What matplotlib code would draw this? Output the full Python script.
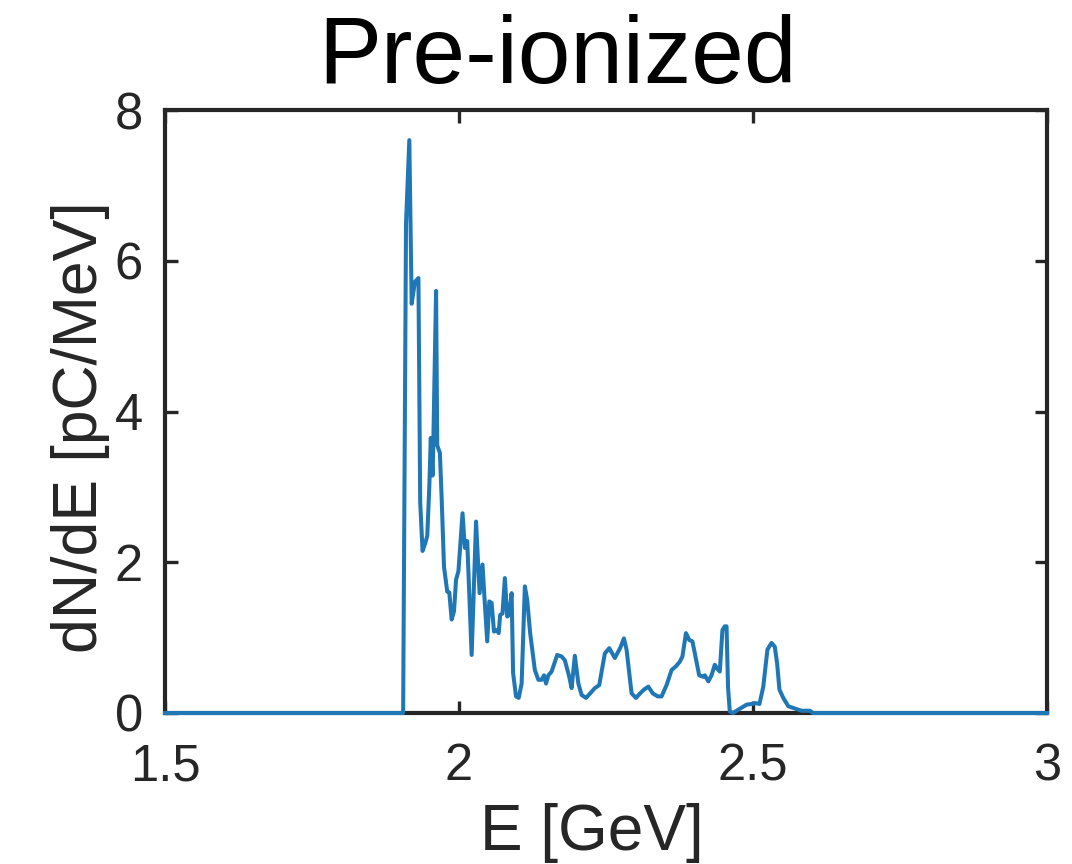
import matplotlib
matplotlib.use("Agg")
import matplotlib.pyplot as plt

# Electron energy spectrum, pre-ionized case
energy_gev = [1.5, 1.905, 1.9099, 1.9155, 1.9195, 1.925, 1.931, 1.934, 1.938, 1.9425,
              1.946, 1.9495, 1.952, 1.955, 1.956, 1.961, 1.963, 1.9675, 1.9705, 1.9745,
              1.980, 1.9835, 1.9875, 1.9915, 1.995, 1.999, 2.006, 2.010, 2.014, 2.0215,
              2.029, 2.035, 2.040, 2.043, 2.048, 2.0515, 2.0555, 2.0595, 2.064, 2.0675,
              2.070, 2.074, 2.078, 2.082, 2.0855, 2.0895, 2.092, 2.097, 2.1015, 2.1065,
              2.112, 2.116, 2.121, 2.129, 2.135, 2.1405, 2.1445, 2.148, 2.152, 2.1575,
              2.167, 2.1745, 2.180, 2.1875, 2.1915, 2.197, 2.203, 2.2085, 2.216, 2.223,
              2.231, 2.2385, 2.248, 2.2555, 2.265, 2.274, 2.2805, 2.285, 2.2935, 2.301,
              2.308, 2.3145, 2.322, 2.3295, 2.338, 2.3445, 2.353, 2.3615, 2.369, 2.3755,
              2.380, 2.386, 2.3915, 2.397, 2.4085, 2.4155, 2.418, 2.424, 2.4295, 2.435,
              2.439, 2.4435, 2.448, 2.452, 2.455, 2.4575, 2.4605, 2.466, 2.472, 2.4805,
              2.489, 2.497, 2.5055, 2.511, 2.5175, 2.5245, 2.5315, 2.537, 2.541, 2.545,
              2.5515, 2.560, 2.571, 2.5825, 2.597, 2.602, 3.0]
dnde_pc_per_mev = [0, 0, 6.5, 7.6, 5.43, 5.72, 5.77, 2.8, 2.15, 2.25,
                   2.35, 3.0, 3.65, 3.15, 3.45, 5.6, 3.55, 3.45, 2.85, 1.94,
                   1.61, 1.60, 1.24, 1.35, 1.77, 1.88, 2.65, 2.19, 2.28, 0.77,
                   2.54, 1.59, 1.97, 1.57, 0.95, 1.48, 1.46, 1.08, 1.10, 1.06,
                   1.30, 1.32, 1.79, 1.28, 1.30, 1.59, 0.53, 0.22, 0.20, 0.39,
                   1.68, 1.50, 1.06, 0.57, 0.44, 0.44, 0.50, 0.39, 0.50, 0.55,
                   0.77, 0.75, 0.70, 0.48, 0.33, 0.76, 0.39, 0.24, 0.20, 0.26,
                   0.33, 0.37, 0.79, 0.86, 0.73, 0.86, 0.99, 0.84, 0.26, 0.20,
                   0.26, 0.31, 0.35, 0.26, 0.22, 0.22, 0.37, 0.57, 0.62, 0.68,
                   0.75, 1.06, 0.97, 0.95, 0.50, 0.48, 0.50, 0.42, 0.50, 0.64,
                   0.59, 0.55, 1.10, 1.15, 1.15, 0.35, 0.02, 0.0, 0.03, 0.07,
                   0.11, 0.12, 0.13, 0.12, 0.35, 0.84, 0.93, 0.88, 0.66, 0.31,
                   0.20, 0.09, 0.06, 0.03, 0.03, 0.0, 0.0]

x_ticks = [1.5, 2, 2.5, 3]
x_tick_labels = ["1.5", "2", "2.5", "3"]
y_ticks = [0, 2, 4, 6, 8]
y_tick_labels = ["0", "2", "4", "6", "8"]

plt.rcParams["font.family"] = ["Liberation Sans", "DejaVu Sans"]
axis_color = "#262626"

W, H = 1072, 864
fig = plt.figure(figsize=(W / 100, H / 100), dpi=100)
left, right, top, bottom = 165, 1047, 110, 713
ax = fig.add_axes([left / W, 1 - bottom / H, (right - left) / W, (bottom - top) / H])

ax.plot(energy_gev, dnde_pc_per_mev, color="#2077b5", linewidth=2.9,
        solid_joinstyle="round", clip_on=False, zorder=5)

ax.set_xlim(1.5, 3)
ax.set_ylim(0, 8)
ax.set_xticks(x_ticks)
ax.set_xticklabels(x_tick_labels)
ax.set_yticks(y_ticks)
ax.set_yticklabels(y_tick_labels)

for s in ax.spines.values():
    s.set_linewidth(3.0)
    s.set_color(axis_color)
    s.set_zorder(4)

ax.tick_params(axis="both", direction="in", length=9, width=2.4, color=axis_color,
               labelcolor=axis_color, labelsize=36.5, top=True, right=True)
ax.tick_params(axis="x", pad=21)
ax.tick_params(axis="y", pad=16)

fig.text(592 / W, 1 - 850 / H, "E [GeV]", ha="center", va="baseline",
         fontsize=46, color=axis_color)
fig.text(81 / W, 1 - 427 / H, "dN/dE [pC/MeV]", ha="center", va="center",
         rotation=90, fontsize=45, color=axis_color)
fig.text(557 / W, 1 - 83 / H, "Pre-ionized", ha="center", va="baseline",
         fontsize=68, color="black")

fig.savefig("out.png", dpi=100)
